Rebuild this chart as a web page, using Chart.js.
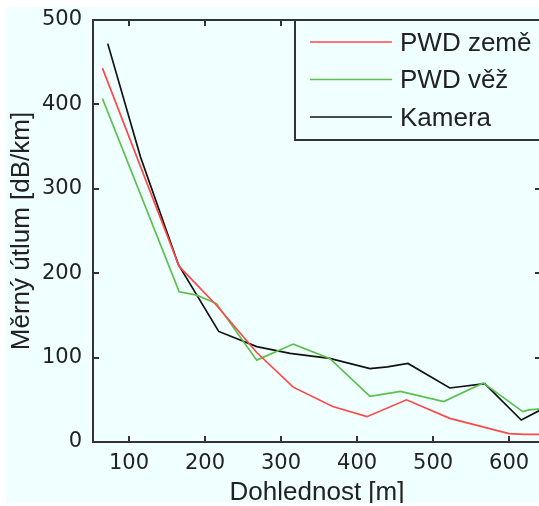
<!DOCTYPE html>
<html>
<head>
<meta charset="utf-8">
<script src="https://cdn.jsdelivr.net/npm/chart.js@4/dist/chart.umd.min.js"></script>
<style>
html,body{margin:0;padding:0;background:#fff;overflow:hidden}
#obal{position:absolute;left:6px;top:7px;width:533px;height:496px;overflow:hidden;background:#f0ffff}
canvas{display:block}
</style>
</head>
<body>
<div id="obal"><canvas id="graf" width="560" height="496"></canvas></div>
<script>

const xTicks=[100,200,300,400,500,600]
const yTicks=[0,100,200,300,400,500]
const xMin=52.6
const xMax=642

const zemeX=[65,166,215,268,316,368,413,465,522,600,620,650]
const zemeY=[443,208,162,106,65,42,30,50,28,10,9,9]

const vezX=[65,166,189,215,268,316,364,417,457,514,566,618,626,650]
const vezY=[407,178,174,164,97,116,99,54,60,48,70,36,38,40]

const kameraX=[72,115,165,218,268,312,364,417,440,467,522,568,616,650]
const kameraY=[472,338,210,131,113,105,99,87,89,93,64,69,26,42]

const nazvy=["PWD země","PWD věž","Kamera"]
const barvy=["#ff4848","#5cbf4c","#111111"]

function body(xs,ys){
return xs.map((x,i)=>({x:x,y:ys[i]}))
}

const ramecek={
id:"ramecek",
beforeDraw(chart){
let ctx=chart.ctx
ctx.save()
ctx.fillStyle="#f0ffff"
ctx.fillRect(0,0,chart.width,chart.height)
ctx.restore()
},
afterDraw(chart){
let ctx=chart.ctx
let a=chart.chartArea
let sx=chart.scales.x
let sy=chart.scales.y
ctx.save()
ctx.strokeStyle="#333"
ctx.lineWidth=2
ctx.strokeRect(a.left,a.top,a.right-a.left,a.bottom-a.top)
ctx.beginPath()
xTicks.forEach(v=>{
let p=Math.round(sx.getPixelForValue(v))
ctx.moveTo(p,a.bottom);ctx.lineTo(p,a.bottom-6)
ctx.moveTo(p,a.top);ctx.lineTo(p,a.top+6)
})
yTicks.forEach(v=>{
let p=Math.round(sy.getPixelForValue(v))
ctx.moveTo(a.left,p);ctx.lineTo(a.left+6,p)
ctx.moveTo(a.right,p);ctx.lineTo(a.right-6,p)
})
ctx.stroke()

// legenda
let lx=289,ly=a.top,lh=120
ctx.fillStyle="#f0ffff"
ctx.fillRect(lx,ly,a.right-lx,lh)
ctx.strokeStyle="#333"
ctx.lineWidth=2
ctx.strokeRect(lx,ly,a.right-lx,lh)
ctx.font="26px 'Liberation Sans', Arial, sans-serif"
ctx.textBaseline="middle"
ctx.textAlign="left"
chart.data.datasets.forEach((d,i)=>{
let y=a.top+22+i*37.5
ctx.strokeStyle=d.borderColor
ctx.lineWidth=1.5
ctx.beginPath()
ctx.moveTo(304,y);ctx.lineTo(386,y)
ctx.stroke()
ctx.fillStyle="#222"
ctx.fillText(d.label,394,y+1.5)
})
ctx.restore()
}
}

new Chart(document.getElementById("graf"),{

type:"line",

data:{
datasets:[
{label:nazvy[0],data:body(zemeX,zemeY),borderColor:barvy[0],backgroundColor:barvy[0]},
{label:nazvy[1],data:body(vezX,vezY),borderColor:barvy[1],backgroundColor:barvy[1]},
{label:nazvy[2],data:body(kameraX,kameraY),borderColor:barvy[2],backgroundColor:barvy[2]}
]
},

options:{
responsive:false,
animation:false,
devicePixelRatio:1,
layout:{padding:{left:0,top:13,right:25,bottom:0}},
elements:{
line:{borderWidth:1.7,tension:0},
point:{radius:0}
},
plugins:{
legend:{display:false},
tooltip:{enabled:false}
},
scales:{
x:{
type:"linear",
min:xMin,
max:xMax,
grid:{display:false,drawTicks:false},
border:{display:false},
afterBuildTicks(s){s.ticks=xTicks.map(v=>({value:v}))},
afterFit(s){s.height=61;s.paddingLeft=0;s.paddingRight=0},
ticks:{padding:9,color:"#222",font:{family:"'DejaVu Sans'",size:21}},
title:{display:true,text:"Dohlednost [m]",color:"#222",padding:0,font:{family:"'Liberation Sans'",size:26,lineHeight:0.8}}
},
y:{
min:0,
max:500,
grid:{display:false,drawTicks:false},
border:{display:false},
afterBuildTicks(s){s.ticks=yTicks.map(v=>({value:v}))},
afterFit(s){s.width=87;s.paddingTop=0;s.paddingBottom=0},
ticks:{padding:11,color:"#222",font:{family:"'DejaVu Sans'",size:21}},
title:{display:true,text:"Měrný útlum [dB/km]",color:"#222",padding:0,font:{family:"'Liberation Sans'",size:26,lineHeight:1.2}}
}
}
},

plugins:[ramecek]

})

</script>
</body>
</html>
